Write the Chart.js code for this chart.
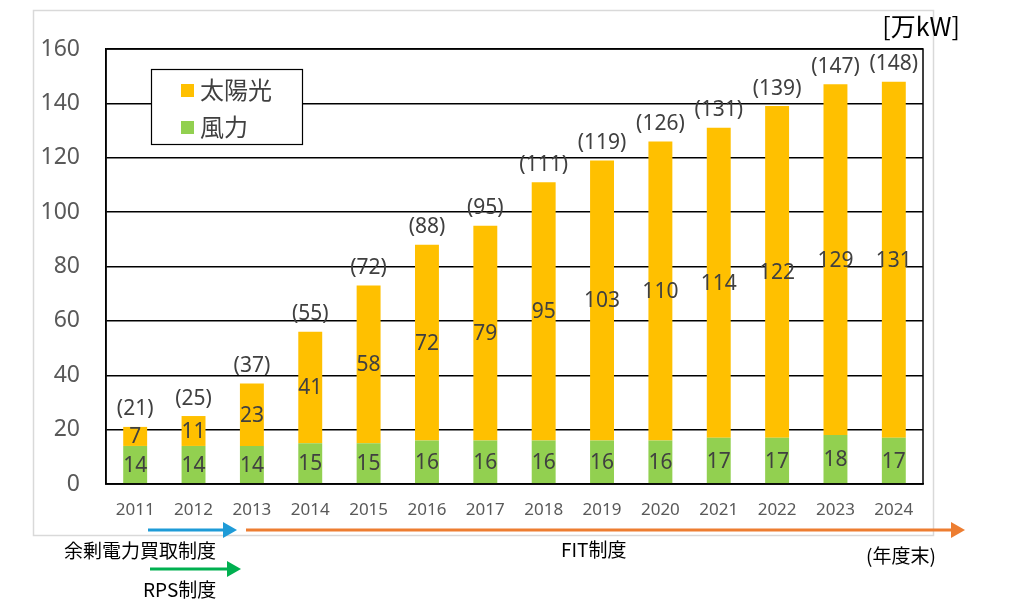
<!DOCTYPE html>
<html>
<head>
<meta charset="utf-8">
<script src="https://cdn.jsdelivr.net/npm/chart.js@4/dist/chart.umd.min.js"></script>
<style>
  html, body { margin: 0; padding: 0; background: #fff; }
  #wrap { width: 1024px; height: 608px; }
</style>
</head>
<body>
<div id="wrap"><canvas id="chart" width="1024" height="608"></canvas></div>
<script>
// 年度末の導入量 [万kW]
const years = ["2011", "2012", "2013", "2014", "2015", "2016", "2017", "2018", "2019", "2020", "2021", "2022", "2023", "2024"];
const windValues = [14, 14, 14, 15, 15, 16, 16, 16, 16, 16, 17, 17, 18, 17];
const solarValues = [7, 11, 23, 41, 58, 72, 79, 95, 103, 110, 114, 122, 129, 131];
const totalValues = [21, 25, 37, 55, 72, 88, 95, 111, 119, 126, 131, 139, 147, 148];
const yTicks = [0, 20, 40, 60, 80, 100, 120, 140, 160];

const solarColor = "#FFC000";
const windColor = "#92D050";
const labelColor = "#404040";
const numFont = '21px "Noto Sans", "Liberation Sans", sans-serif';
const jpFont = '"Noto Sans CJK JP", sans-serif';

// frame, legend, value labels, arrows
const decorations = {
  id: "decorations",
  beforeDraw(chart) {
    const ctx = chart.ctx;
    ctx.save();
    ctx.fillStyle = "#fff";
    ctx.fillRect(0, 0, chart.width, chart.height);
    ctx.strokeStyle = "#d9d9d9";
    ctx.lineWidth = 1.5;
    ctx.strokeRect(33.5, 10.5, 900, 525);
    ctx.restore();
  },
  afterDatasetsDraw(chart) {
    const ctx = chart.ctx;
    const area = chart.chartArea;
    ctx.save();

    // plot border
    ctx.strokeStyle = "#000";
    ctx.lineWidth = 1.5;
    ctx.strokeRect(area.left, area.top, area.right - area.left, area.bottom - area.top);

    // segment values
    ctx.font = numFont;
    ctx.fillStyle = labelColor;
    ctx.textAlign = "center";
    ctx.textBaseline = "middle";
    chart.data.datasets.forEach((ds, i) => {
      const meta = chart.getDatasetMeta(i);
      meta.data.forEach((bar, j) => {
        const y = (bar.y + bar.base) / 2;
        ctx.fillText(String(ds.data[j]), bar.x, y + 1);
      });
    });

    // totals
    const topMeta = chart.getDatasetMeta(1);
    ctx.textBaseline = "bottom";
    topMeta.data.forEach((bar, j) => {
      ctx.fillText("(" + totalValues[j] + ")", bar.x, bar.y - 7);
    });

    // legend
    ctx.fillStyle = "#fff";
    ctx.fillRect(151, 69, 151, 75);
    ctx.strokeStyle = "#000";
    ctx.lineWidth = 1.2;
    ctx.strokeRect(151.5, 69.5, 151, 75);
    const items = [chart.data.datasets[1], chart.data.datasets[0]];
    items.forEach((ds, k) => {
      const cy = 90 + k * 37;
      ctx.fillStyle = ds.backgroundColor;
      ctx.fillRect(181, cy - 6, 13, 13);
      ctx.fillStyle = "#404040";
      ctx.font = "24px " + jpFont;
      ctx.textAlign = "left";
      ctx.textBaseline = "middle";
      ctx.fillText(ds.label, 200, cy);
    });

    // unit
    ctx.fillStyle = "#000";
    ctx.font = "25px " + jpFont;
    ctx.textAlign = "right";
    ctx.textBaseline = "middle";
    ctx.fillText("[万kW]", 960, 26);

    // arrows
    function arrow(x1, x2, y, color) {
      ctx.strokeStyle = color;
      ctx.fillStyle = color;
      ctx.lineWidth = 3;
      ctx.beginPath();
      ctx.moveTo(x1, y);
      ctx.lineTo(x2 - 12, y);
      ctx.stroke();
      ctx.beginPath();
      ctx.moveTo(x2, y);
      ctx.lineTo(x2 - 14, y - 8);
      ctx.lineTo(x2 - 14, y + 8);
      ctx.closePath();
      ctx.fill();
    }
    arrow(148, 237, 530, "#1E9BD7");
    arrow(246, 965, 530, "#ED7D31");
    arrow(150, 241, 569, "#00B050");

    ctx.fillStyle = "#000";
    ctx.font = "19px " + jpFont;
    ctx.textAlign = "left";
    ctx.textBaseline = "middle";
    ctx.fillText("余剰電力買取制度", 64, 551);
    ctx.fillText("FIT制度", 561, 550);
    ctx.fillText("(年度末)", 866, 556);
    ctx.fillText("RPS制度", 143, 590);
    ctx.restore();
  }
};

new Chart(document.getElementById("chart"), {
  type: "bar",
  data: {
    labels: years,
    datasets: [
      { label: "風力", data: windValues, backgroundColor: windColor, barPercentage: 0.41, categoryPercentage: 1 },
      { label: "太陽光", data: solarValues, backgroundColor: solarColor, barPercentage: 0.41, categoryPercentage: 1 },
    ],
  },
  options: {
    responsive: false,
    animation: false,
    layout: { padding: { top: 49, right: 101, left: 0, bottom: 0 } },
    plugins: {
      legend: { display: false },
      tooltip: { enabled: false },
    },
    scales: {
      x: {
        stacked: true,
        grid: { display: false, drawTicks: false },
        border: { color: "#000", width: 1.5 },
        ticks: {
          color: "#595959",
          font: { family: '"Noto Sans", sans-serif', size: 17 },
          padding: 16,
          maxRotation: 0,
        },
        afterFit(scale) { scale.height = 124; },
      },
      y: {
        stacked: true,
        min: 0,
        max: 160,
        afterBuildTicks(scale) { scale.ticks = yTicks.map(v => ({ value: v })); },
        grid: { color: "#000", lineWidth: 1.5, drawTicks: false },
        border: { color: "#000", width: 1.5 },
        ticks: {
          color: "#595959",
          font: { family: '"Noto Sans", sans-serif', size: 23 },
          padding: 26,
        },
        afterFit(scale) { scale.width = 106; },
      },
    },
  },
  plugins: [decorations],
});
</script>
</body>
</html>
